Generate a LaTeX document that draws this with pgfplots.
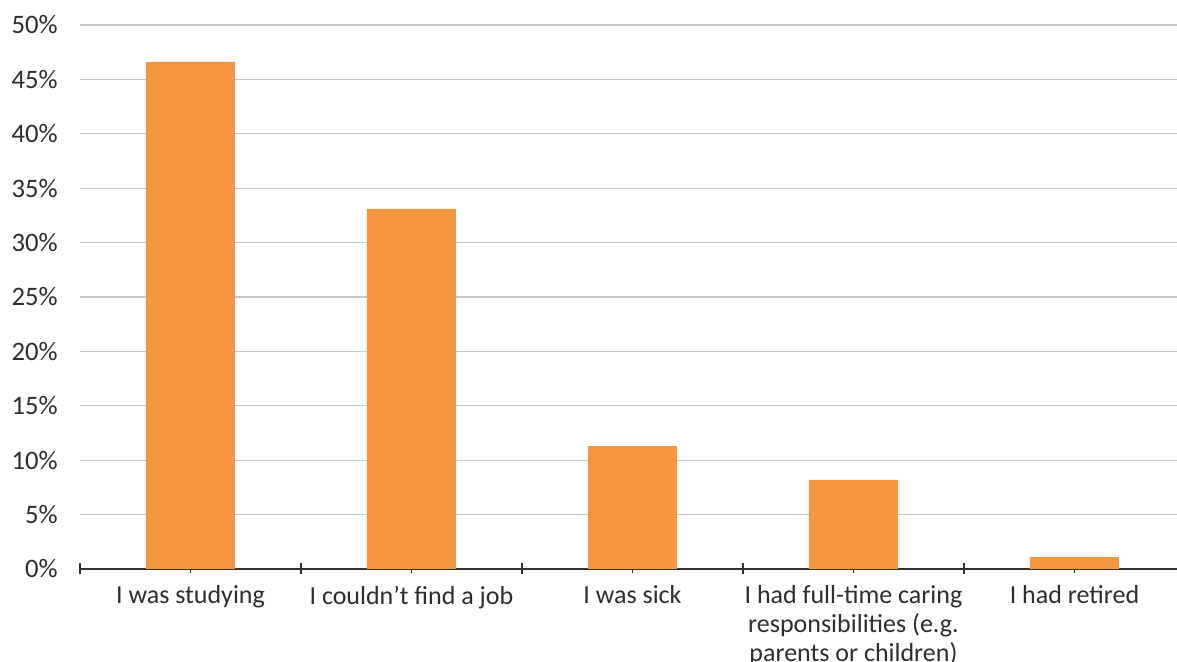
\documentclass[border=0pt]{standalone}
\usepackage{fontspec}
\setmainfont{Carlito}
\usepackage{pgfplots}
\pgfplotsset{compat=1.18}
\definecolor{barorange}{HTML}{F59640}
\definecolor{gridgray}{HTML}{C8C8C8}
\definecolor{textgray}{HTML}{2E2E2E}
\definecolor{axisdark}{HTML}{333333}
% grid behind the bars, ticks and axis line in front of them
\pgfplotsset{layers/barsfront/.define layer set={axis background,axis grid,pre main,main,axis ticks,axis lines,axis tick labels,axis descriptions,axis foreground}{}}
\begin{document}
\begin{tikzpicture}
\begin{axis}[
  name=ax,
  set layers=barsfront,
  scale only axis, width=822.75pt, height=408pt,
  xmin=-0.5, xmax=4.464, ymin=0, ymax=50,
  axis x line*=bottom, axis y line*=left,
  y axis line style={draw=none},
  x axis line style={draw=axisdark, line width=1pt},
  ymajorgrids, grid style={draw=gridgray, line width=0.9pt},
  ytick={0,5,...,50},
  yticklabels={0\%,5\%,10\%,15\%,20\%,25\%,30\%,35\%,40\%,45\%,50\%},
  ytick style={draw=none},
  yticklabel style={anchor=east, inner sep=0pt, xshift=-13.5pt, text=textgray, font=\fontsize{20}{22}\selectfont},
  xtick={0,...,4},
  xticklabels={I was studying, I couldn’t find a job, I was sick, {I had full-time caring\\responsibilities (e.g.\\parents or children)}, I had retired},
  xticklabel style={align=center, anchor=north, text=textgray, font=\fontsize{19.5}{21.75}\selectfont, yshift=-6pt},
  extra x ticks={-0.5,0.5,1.5,2.5,3.5},
  extra x tick labels={},
  extra x tick style={major tick length=8.25pt},
  major tick length=6pt,
  tick align=center,
  xtick style={draw=axisdark, line width=0.8pt},
]
\addplot[ybar, bar width=66.75pt, fill=barorange, draw=none]
  coordinates {(0,46.6) (1,33.1) (2,11.3) (3,8.2) (4,1.1)};
\end{axis}
\pgfresetboundingbox
\path (ax.south west) ++(-60pt,-69.75pt) rectangle ([yshift=18.75pt]ax.north east);
\end{tikzpicture}
\end{document}
